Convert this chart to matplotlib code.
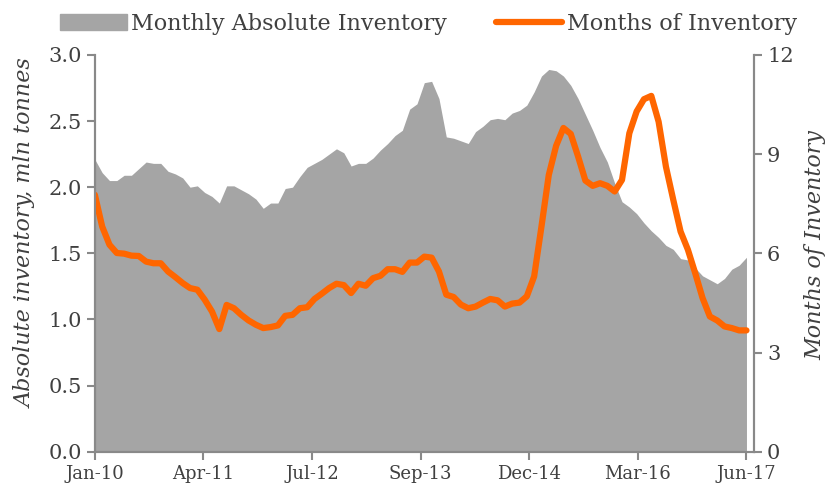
import numpy as np
import matplotlib.pyplot as plt
from matplotlib.patches import Patch
from matplotlib.lines import Line2D

# monthly data, Jan-10 .. Jun-17
absolute_inv = [2.21, 2.11, 2.05, 2.05, 2.09, 2.09, 2.14, 2.19, 2.18, 2.18,
                2.12, 2.10, 2.07, 2.00, 2.01, 1.96, 1.93, 1.88, 2.01, 2.01,
                1.98, 1.95, 1.91, 1.84, 1.88, 1.88, 1.99, 2.00, 2.08, 2.15,
                2.18, 2.21, 2.25, 2.29, 2.26, 2.16, 2.18, 2.18, 2.22, 2.28,
                2.33, 2.39, 2.43, 2.59, 2.63, 2.79, 2.80, 2.67, 2.38, 2.37,
                2.35, 2.33, 2.42, 2.46, 2.51, 2.52, 2.51, 2.56, 2.58, 2.62,
                2.72, 2.84, 2.89, 2.88, 2.84, 2.77, 2.67, 2.55, 2.43, 2.30,
                2.19, 2.03, 1.89, 1.85, 1.80, 1.73, 1.67, 1.62, 1.56, 1.53,
                1.46, 1.45, 1.39, 1.33, 1.30, 1.27, 1.31, 1.38, 1.41, 1.47]

months_inv = [7.77, 6.81, 6.26, 6.01, 5.99, 5.93, 5.92, 5.75, 5.70, 5.70,
              5.45, 5.28, 5.10, 4.95, 4.90, 4.60, 4.24, 3.71, 4.44, 4.34,
              4.14, 3.97, 3.84, 3.74, 3.77, 3.82, 4.11, 4.14, 4.34, 4.37,
              4.62, 4.78, 4.95, 5.08, 5.04, 4.80, 5.08, 5.02, 5.25, 5.32,
              5.52, 5.52, 5.44, 5.72, 5.72, 5.90, 5.87, 5.45, 4.75, 4.68,
              4.45, 4.34, 4.39, 4.51, 4.62, 4.58, 4.39, 4.48, 4.51, 4.70,
              5.30, 6.81, 8.37, 9.25, 9.79, 9.61, 8.93, 8.20, 8.04, 8.12,
              8.04, 7.87, 8.22, 9.63, 10.29, 10.66, 10.76, 9.98, 8.62, 7.62,
              6.66, 6.11, 5.40, 4.65, 4.09, 3.97, 3.79, 3.74, 3.67, 3.67]

tick_labels = ['Jan-10', 'Apr-11', 'Jul-12', 'Sep-13', 'Dec-14', 'Mar-16', 'Jun-17']

gray = '#A5A5A5'
orange = '#FF6600'
txt = '#404040'
axc = '#898989'

plt.rcParams['font.family'] = 'DejaVu Serif'

x = np.arange(len(absolute_inv))

fig = plt.figure(figsize=(8.32, 4.9), dpi=100)
ax = fig.add_axes([0.114, 0.078, 0.792, 0.81])
ax2 = ax.twinx()

ax.fill_between(x, 0, absolute_inv, color=gray, lw=0)
ax2.plot(x, months_inv, color=orange, lw=4.5, solid_capstyle='round', solid_joinstyle='round')

ax.set_xlim(0, len(x))
ax.set_ylim(0, 3.0)
ax2.set_ylim(0, 12)
ax.set_yticks(np.arange(0, 3.01, 0.5))
ax.set_yticklabels(['%.1f' % v for v in np.arange(0, 3.01, 0.5)])
ax2.set_yticks([0, 3, 6, 9, 12])
ax.set_xticks(np.linspace(0, len(x) - 1, len(tick_labels)))
ax.set_xticklabels(tick_labels)

for a in (ax, ax2):
    a.spines['top'].set_visible(False)
    for s in ('left', 'right', 'bottom'):
        a.spines[s].set_color(axc)
        a.spines[s].set_linewidth(1.5)
    a.tick_params(colors=axc, length=6, width=1.5, labelcolor=txt, labelsize=15)
ax.tick_params(axis='x', labelsize=13)

ax.set_ylabel('Absolute inventory, mln tonnes', style='italic', color=txt, fontsize=16)
ax.yaxis.set_label_coords(-0.088, 0.55)
ax2.set_ylabel('Months of Inventory', style='italic', color=txt, fontsize=16)
ax2.yaxis.set_label_coords(1.076, 0.52)

handles = [Patch(color=gray), Line2D([0], [0], color=orange, lw=4.5, solid_capstyle='round')]
fig.legend(handles, ['Monthly Absolute Inventory', 'Months of Inventory'], loc='upper center',
           bbox_to_anchor=(0.515, 1.015), ncol=2, frameon=False, fontsize=16,
           labelcolor=txt, handlelength=3.0, columnspacing=2.2, handletextpad=0.2)

fig.savefig('out.png', dpi=100)
